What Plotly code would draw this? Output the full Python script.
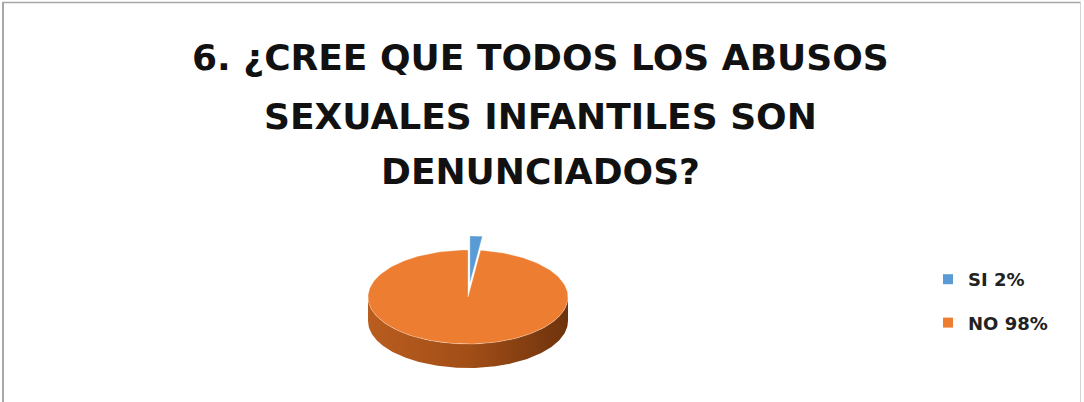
import numpy as np
import plotly.graph_objects as go

# ---- data ----
labels = ["SI", "NO"]
values = [2, 98]
legend_text = ["SI 2%", "NO 98%"]
title_lines = ["6. ¿CREE QUE TODOS LOS ABUSOS", "SEXUALES INFANTILES SON", "DENUNCIADOS?"]

# ---- style ----
W, H = 1084, 402
OFF = 0  # page body margin removed by post_script
top_colors = ["#5B9BD5", "#ED7D31"]
side_scales = [
    [[0, "#3F77AA"], [1, "#2E5F8C"]],
    [[0, "#B95D1F"], [0.5, "#A24E17"], [1, "#6E330C"]],
]
explode = [0.3, 0.0]
CX, CY, A, B, DEPTH = 468, 297, 100, 47, 24
FONT = "DejaVu Sans"

fig = go.Figure()

total = float(sum(values))
fracs = [v / total for v in values]
starts = np.concatenate([[0.0], np.cumsum(fracs)[:-1]]) * 360.0
ends = np.cumsum(fracs) * 360.0


def arc(t0, t1, dx, dy, depth=0.0, n=200):
    t = np.radians(np.linspace(t0, t1, n))
    return CX + dx + A * np.sin(t), CY + dy + depth - B * np.cos(t)


for i in range(len(values)):
    t0, t1 = starts[i], ends[i]
    tm = np.radians((t0 + t1) / 2)
    dx = explode[i] * A * np.sin(tm)
    dy = -explode[i] * B * np.cos(tm)
    s0, s1 = max(t0, 90.0), min(t1, 270.0)
    if s1 > s0:
        xa, ya = arc(s0, s1, dx, dy)
        xb, yb = arc(s1, s0, dx, dy, DEPTH)
        fig.add_trace(go.Scatter(
            x=np.concatenate([xa, xb, xa[:1]]), y=np.concatenate([ya, yb, ya[:1]]),
            mode="lines", line=dict(width=0), fill="toself",
            fillgradient=dict(type="horizontal", colorscale=side_scales[i]),
            showlegend=False, hoverinfo="skip"))
    xa, ya = arc(t0, t1, dx, dy)
    fig.add_trace(go.Scatter(
        x=np.concatenate([[CX + dx], xa, [CX + dx]]),
        y=np.concatenate([[CY + dy], ya, [CY + dy]]),
        mode="lines", line=dict(width=0.6, color="rgba(255,255,255,0.5)"),
        fill="toself", fillcolor=top_colors[i],
        showlegend=False, hoverinfo="skip"))

for i in range(len(labels)):
    fig.add_trace(go.Scatter(
        x=[None], y=[None], mode="markers", name=legend_text[i],
        legendgroup=labels[i],
        marker=dict(symbol="square", size=10, color=top_colors[i])))

title_y = [57, 116, 171]
for txt, yy in zip(title_lines, title_y):
    fig.add_annotation(text=txt, x=540, xref="x", y=yy, yref="y",
                       xanchor="center", yanchor="middle", showarrow=False,
                       font=dict(family=FONT, size=36, color="#111111", weight="bold"))

# border
fig.add_shape(type="line", xref="x", yref="y", x0=3, x1=3, y0=2, y1=H + 20,
              line=dict(color="#A8A8A8", width=2))
fig.add_shape(type="line", xref="x", yref="y", x0=2, x1=1081, y0=2.5, y1=2.5,
              line=dict(color="#A8A8A8", width=1.5))
fig.add_shape(type="line", xref="x", yref="y", x0=1080.5, x1=1080.5, y0=2, y1=H + 20,
              line=dict(color="#D4D4D4", width=1))

fig.update_layout(
    width=W, height=H,
    margin=dict(l=0, r=0, t=0, b=0),
    paper_bgcolor="white", plot_bgcolor="white",
    xaxis=dict(range=[OFF, W + OFF], visible=False, fixedrange=True),
    yaxis=dict(range=[H + OFF, OFF], visible=False, fixedrange=True),
    showlegend=True,
    legend=dict(x=(928 - OFF) / W, y=1 - (261 - OFF) / H, xanchor="left", yanchor="top",
                font=dict(family=FONT, size=18, color="#222222", weight="bold"),
                tracegroupgap=17, bgcolor="rgba(0,0,0,0)"),
)

fig.write_html("out.html", config={"displayModeBar": False},
               post_script="document.body.style.margin='0';document.body.style.overflow='hidden';")
